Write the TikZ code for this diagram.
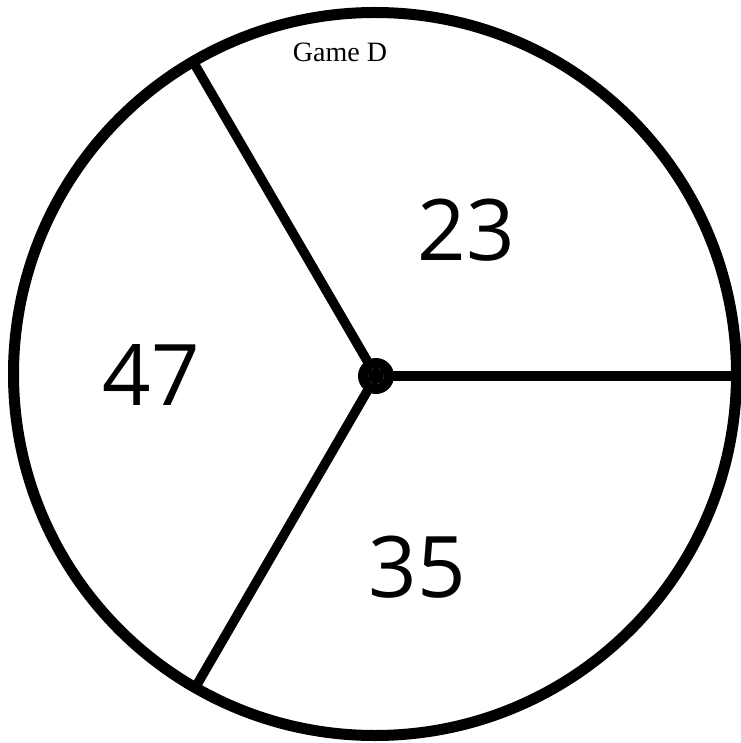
\documentclass[tikz,border=0pt]{standalone}
\usepackage{fontspec}
\newfontfamily\numfont{Open Sans}
\newfontfamily\titlefont{Liberation Serif}
\begin{document}
\begin{tikzpicture}[x=1pt,y=-1pt,
  rim/.style={line width=11pt},
  spoke/.style={line width=9.5pt},
  num/.style={font=\numfont\fontsize{85}{85}\selectfont, anchor=base, inner sep=0pt}]
\useasboundingbox (0,0) rectangle (740,743);
\coordinate (c) at (375,374);
\coordinate (h) at (376,376);
\coordinate (e1) at (736,376);
\coordinate (e2) at (195,65);
\coordinate (e3) at (195,688);
\draw[rim] (c) circle[radius=361.5];
\draw[spoke] (h) -- (e1);
\draw[spoke] (h) -- (e2);
\draw[spoke] (h) -- (e3);
\fill (h) circle[radius=18];
\draw[gray!35!black, line width=0.8pt, dash pattern=on 3pt off 5pt] (h) circle[radius=8];
\node[font=\titlefont\fontsize{28}{28}\selectfont, anchor=base, inner sep=0pt] (title) at (340,62) {Game D};
\node[num] (n23) at (466,260) {23};
\node[num] (n47) at (151,405) {47};
\node[num] (n35) at (417,597) {35};
\end{tikzpicture}
\end{document}
